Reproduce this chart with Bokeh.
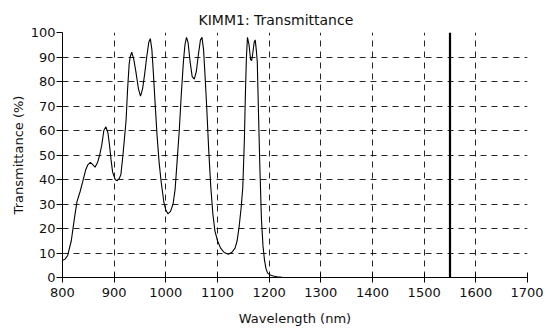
from bokeh.plotting import figure
from bokeh.models import Range1d, FixedTicker
from bokeh.embed import file_html
from bokeh.resources import INLINE

# Transmittance curve
wavelength = [800, 805, 810, 817, 823, 828, 834, 839, 845, 849, 854, 859, 863, 868, 872,
              876, 880, 884, 888, 891, 894, 897, 902, 906, 910, 913, 917, 920, 923, 926,
              929, 931, 934, 938, 942, 947, 951, 955, 959, 963, 967, 970, 973, 976, 979,
              983, 987, 991, 996, 1000, 1004, 1009, 1014, 1018, 1022, 1026, 1030, 1034,
              1037, 1040, 1043, 1047, 1051, 1055, 1059, 1063, 1067, 1070, 1073, 1076,
              1079, 1083, 1087, 1091, 1095, 1100, 1106, 1113, 1121, 1128, 1134, 1138,
              1142, 1146, 1149, 1152, 1154, 1156, 1158, 1161, 1164, 1166, 1168, 1171,
              1173, 1175, 1177, 1179, 1182, 1185, 1188, 1191, 1194, 1197, 1202, 1208,
              1215, 1225, 1300, 1400, 1500, 1600, 1700]
transmittance = [7, 7.5, 9, 15, 24, 31, 35, 39, 44, 46, 47, 46, 45, 47, 50,
                 54, 60, 61.5, 59, 54, 48, 43, 40, 39.5, 40.5, 42, 50, 57, 64, 77,
                 87, 90, 92, 89, 84, 77, 74, 77, 83, 90, 96, 97.5, 93, 83, 72,
                 58, 47, 39, 31, 27.5, 26, 27, 30, 36, 48, 60, 75, 88,
                 95, 98, 96, 88, 82, 81, 84, 91, 97, 98, 93, 82,
                 70, 52, 37, 26, 19, 15, 12, 10.2, 9.5, 10.3, 12, 15,
                 21, 29, 37, 56, 75, 90, 98, 95, 89, 88.5, 91, 96,
                 97, 93, 88, 70, 45, 24, 13, 7, 3.5, 1.8, 1.0, 0.6,
                 0.3, 0.1, 0, 0, 0, 0, 0]

# Narrow spike at 1550 nm
spike_wl = [1550, 1550]
spike_t = [0, 100]

x_ticks = [800, 900, 1000, 1100, 1200, 1300, 1400, 1500, 1600, 1700]
y_ticks = [0, 10, 20, 30, 40, 50, 60, 70, 80, 90, 100]

FONT = "DejaVu Sans"

p = figure(frame_width=465, frame_height=245, output_backend="svg", toolbar_location=None,
           x_range=Range1d(800, 1700), y_range=Range1d(0, 100),
           title="KIMM1: Transmittance",
           min_border_left=0, min_border_right=16, min_border_top=0, min_border_bottom=0)
p.margin = (4, 0, 0, 7)

p.outline_line_color = None
p.background_fill_color = "white"
p.border_fill_color = "white"

p.title.text_font = FONT
p.title.text_font_size = "14px"
p.title.text_font_style = "normal"
p.title.align = "left"
p.title.offset = 136
p.title.text_color = "#111111"

p.line(wavelength, transmittance, line_color="black", line_width=1.1)
p.line(spike_wl, spike_t, line_color="black", line_width=2.2)

for ax in (p.xaxis[0], p.yaxis[0]):
    ax.major_label_text_font = FONT
    ax.major_label_text_font_size = "13px"
    ax.major_label_text_color = "#111111"
    ax.axis_label_text_font = FONT
    ax.axis_label_text_font_size = "13px"
    ax.axis_label_text_font_style = "normal"
    ax.axis_label_text_color = "#111111"
    ax.axis_line_color = "black"
    ax.major_tick_line_color = "black"
    ax.minor_tick_line_color = None

p.xaxis.ticker = FixedTicker(ticks=x_ticks)
p.yaxis.ticker = FixedTicker(ticks=y_ticks)
p.xaxis.axis_label = "Wavelength (nm)"
p.yaxis.axis_label = "Transmittance (%)"
p.xaxis.major_tick_in = 5
p.xaxis.major_tick_out = 5
p.xaxis.major_label_standoff = 5
p.xaxis.axis_label_standoff = 11
p.yaxis.major_tick_in = 0
p.yaxis.major_tick_out = 6
p.yaxis.major_label_standoff = 1
p.yaxis.axis_label_standoff = 2

p.xgrid.ticker = FixedTicker(ticks=x_ticks[1:])
p.ygrid.ticker = FixedTicker(ticks=y_ticks[1:])
for g in (p.xgrid[0], p.ygrid[0]):
    g.grid_line_color = "black"
    g.grid_line_alpha = 0.85
    g.grid_line_dash = "6 5"
    g.grid_line_width = 1

open("out.html", "w").write(file_html(p, INLINE))
